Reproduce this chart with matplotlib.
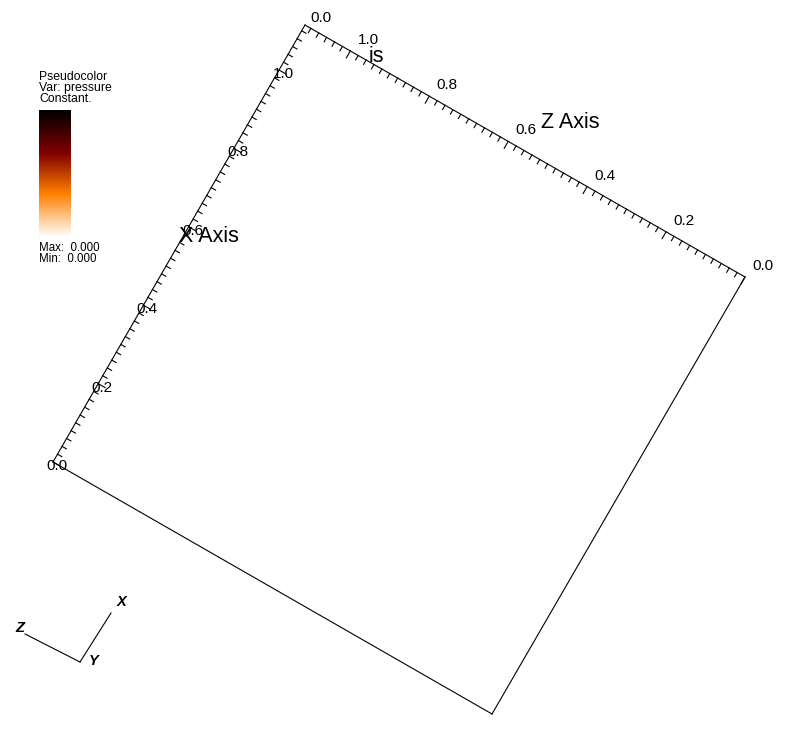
import numpy as np
import matplotlib
matplotlib.use("Agg")
import matplotlib.pyplot as plt
from matplotlib.colors import LinearSegmentedColormap

plt.rcParams['font.family'] = ['Liberation Sans', 'DejaVu Sans']

# projected corners of the bounding box (screen pixels)
corner_a = np.array([53.0, 462.0])   # x=0, z=0
corner_b = np.array([305.0, 25.0])   # x end / z end
corner_c = np.array([745.0, 277.0])  # z=0
corner_d = np.array([492.0, 714.0])

axis_frac = 0.897          # share of edge length that equals 1.0
major_vals = [0.0, 0.2, 0.4, 0.6, 0.8, 1.0]
major_labels = ["0.0", "0.2", "0.4", "0.6", "0.8", "1.0"]
minor_step = 0.02
axis_end = 1.11

legend_lines = ["Pseudocolor", "Var: pressure", "Constant."]
legend_range = ["Max:  0.000", "Min:  0.000"]
cmap_stops = [(0.0, "white"), (0.34, "#ff8000"), (0.66, "#800000"), (1.0, "black")]

fig = plt.figure(figsize=(7.98, 7.38), dpi=100)
ax = fig.add_axes([0, 0, 1, 1])
ax.set_xlim(0, 798)
ax.set_ylim(738, 0)
ax.axis('off')

lw = 0.8
# box edges
for p, q in [(corner_a, corner_b), (corner_b, corner_c), (corner_c, corner_d), (corner_d, corner_a)]:
    ax.plot([p[0], q[0]], [p[1], q[1]], color='black', lw=lw)

x_vec = (corner_b - corner_a) * axis_frac
z_vec = (corner_b - corner_c) * axis_frac
x_unit = x_vec / np.linalg.norm(x_vec)
z_unit = z_vec / np.linalg.norm(z_vec)

def draw_ticks(origin, vec, tdir):
    vals = np.arange(0, axis_end + 1e-9, minor_step)
    for v in vals:
        p = origin + v * vec
        major = abs(v / 0.2 - round(v / 0.2)) < 1e-6
        ln = 8 if major else 5
        q = p + tdir * ln
        ax.plot([p[0], q[0]], [p[1], q[1]], color='black', lw=lw)

# X axis ticks point toward -Z on screen, Z axis ticks toward -X
draw_ticks(corner_a, x_vec, -z_unit)
draw_ticks(corner_c, z_vec, -x_unit)

for v, s in zip(major_vals, major_labels):
    p = corner_a + v * x_vec
    ax.text(p[0] + 4, p[1] + 4, s, fontsize=11, ha='center', va='center')
    p = corner_c + v * z_vec
    ax.text(p[0] + 18, p[1] - 11, s, fontsize=11, ha='center', va='center')

# collapsed Y axis labels near the top corner
ax.text(321, 18, "0.0", fontsize=11, ha='center', va='center')
ax.text(376, 57, "is", fontsize=15.5, ha='center', va='center')

ax.text(209, 236, "X Axis", fontsize=15.5, ha='center', va='center')
ax.text(570, 123, "Z Axis", fontsize=15.5, ha='center', va='center')

# legend
for i, s in enumerate(legend_lines):
    ax.text(39, 77 + i * 11, s, fontsize=8.8, ha='left', va='center')
cmap = LinearSegmentedColormap.from_list("visit_hot", cmap_stops)
grad = np.linspace(1, 0, 256).reshape(-1, 1)
ax.imshow(grad, cmap=cmap, extent=[39, 71, 237, 110], aspect='auto', interpolation='bilinear')
for i, s in enumerate(legend_range):
    ax.text(39, 248 + i * 11, s, fontsize=8.3, ha='left', va='center')

# orientation triad
triad_o = (80, 662)
ax.plot([triad_o[0], 25], [triad_o[1], 634], color='black', lw=lw)
ax.plot([triad_o[0], 111], [triad_o[1], 613], color='black', lw=lw)
ax.text(20, 628, "Z", fontsize=10.5, fontweight='bold', style='italic', ha='center', va='center')
ax.text(122, 602, "X", fontsize=10.5, fontweight='bold', style='italic', ha='center', va='center')
ax.text(94, 661, "Y", fontsize=10.5, fontweight='bold', style='italic', ha='center', va='center')

fig.savefig("out.png", dpi=100)
